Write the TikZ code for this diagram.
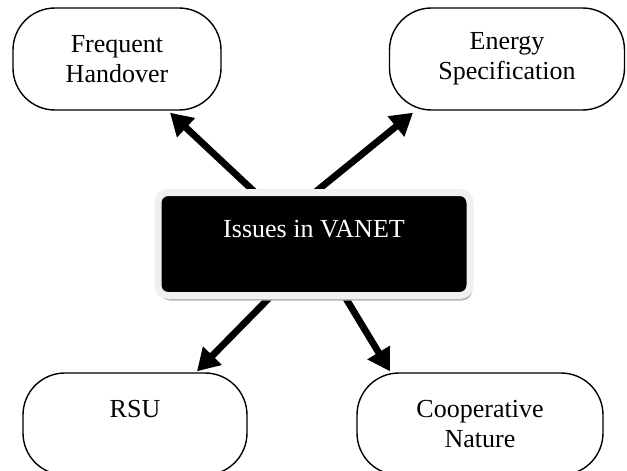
\documentclass[tikz,border=0pt]{standalone}
\usepackage{fontspec}
\setmainfont{Liberation Serif}
\usetikzlibrary{positioning, arrows.meta, calc, shadows, backgrounds}

\begin{document}
\begin{tikzpicture}[x=0.5pt,y=-0.5pt,
    issue/.style={draw, line width=0.7pt, rounded corners=21pt, align=center,
        font=\fontsize{13}{15}\selectfont, minimum height=51pt},
    hub/.style={draw=gray!12, line width=3.5pt, fill=black, text=white,
        rounded corners=5pt, align=center, font=\fontsize{13}{15}\selectfont,
        minimum width=156pt, minimum height=51.5pt,
        drop shadow={shadow xshift=1pt, shadow yshift=-2.5pt, fill=gray!60, opacity=1}},
    fat/.style={line width=3.4pt, -{Triangle[length=11pt,width=12.5pt]}}]
    \useasboundingbox (0,0) rectangle (627,471);

    \node[hub] (vanet) at (314,244) {Issues in VANET\\\mbox{}};
    \node[issue, minimum width=104pt] (fh) at (117,59) {Frequent\\Handover};
    \node[issue, minimum width=117.5pt] (es) at (507,59) {Energy\\Specification};
    \node[issue, minimum width=112pt] (rsu) at (135,424) {RSU\\\mbox{}};
    \node[issue, minimum width=123pt] (cn) at (480,424) {Cooperative\\Nature};

    \begin{scope}[on background layer]
    \draw[fat] ($(vanet.center)+(-53,-46)$) -- ($(fh.south)+(53,2)$);
    \draw[fat] ($(vanet.center)+(-6,-46)$) -- ($(es.south)+(-94,2)$);
    \draw[fat] ($(vanet.center)+(-39,48)$) -- ($(rsu.north)+(62,-1)$);
    \draw[fat] ($(vanet.center)+(28,48)$) -- ($(cn.north)+(-90,-1)$);
    \end{scope}
\end{tikzpicture}
\end{document}
